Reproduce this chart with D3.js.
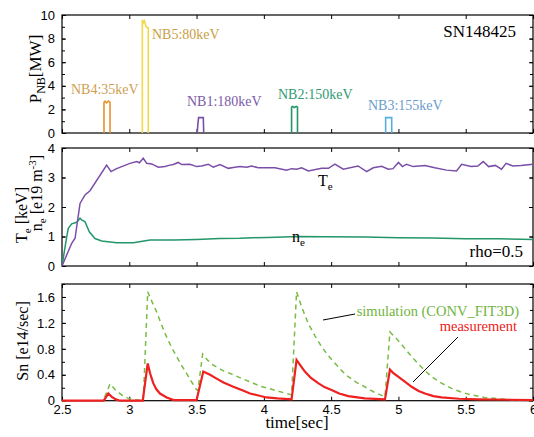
<!DOCTYPE html>
<html lang="en">
<head>
	<meta charset="UTF-8">
	<script type="text/javascript" src="https://d3js.org/d3.v7.min.js"></script>
	<title>SN148425 NB / Te ne / Sn</title>
	<style>
		body { margin: 0; background: #fff; }
		.tick text { font-family: "Liberation Sans", Arial, sans-serif; font-size: 13px; fill: #000; }
		.tick line { stroke: #000; }
		.serif { font-family: "Liberation Serif", "Times New Roman", serif; }
	</style>
</head>
<body>
<svg id="chart" width="534" height="437"></svg>

<script type="text/javascript">
	// ---- data ----
	// NB injected power [MW], outlines of each pulse
	var nb4Time = [2.812, 2.812, 2.82, 2.83, 2.845, 2.857, 2.857]
	var nb4Pow  = [0, 2.6, 2.7, 2.55, 2.7, 2.6, 0]
	var nb5Time = [3.097, 3.097, 3.103, 3.112, 3.125, 3.141, 3.141]
	var nb5Pow  = [0, 9.6, 9.3, 9.5, 9.0, 8.9, 0]
	var nb1Time = [3.505, 3.51, 3.515, 3.55, 3.553]
	var nb1Pow  = [0, 0.8, 1.3, 1.3, 0]
	var nb2Time = [4.206, 4.206, 4.215, 4.225, 4.24, 4.25, 4.25]
	var nb2Pow  = [0, 2.2, 2.25, 2.15, 2.25, 2.2, 0]
	var nb3Time = [4.905, 4.905, 4.95, 4.95]
	var nb3Pow  = [0, 1.3, 1.3, 0]
	var nbNames = ["NB4:35keV", "NB5:80keV", "NB1:180keV", "NB2:150keV", "NB3:155keV"]

	// Te [keV] at rho=0.5
	var teTime = [2.5,2.572,2.597,2.634,2.671,2.708,2.832,2.864,2.906,3.005,3.055,3.075,3.104,3.129,3.166,3.216,3.265,3.302,3.327,3.364,3.389,3.451,3.5,3.537,3.587,3.624,3.674,3.736,3.773,3.822,3.872,3.909,3.958,4.008,4.082,4.169,4.206,4.243,4.281,4.33,4.43,4.48,4.528,4.59,4.70,4.764,4.813,4.875,4.925,4.96,5.0,5.03,5.06,5.11,5.197,5.27,5.358,5.432,5.47,5.54,5.59,5.63,5.67,5.72,5.766,5.80,5.85,5.91,6.0]
	var teVal  = [0,0.77,0.94,2.12,2.41,2.55,3.42,3.2,3.3,3.48,3.54,3.5,3.65,3.48,3.46,3.35,3.37,3.42,3.44,3.51,3.44,3.45,3.37,3.39,3.45,3.35,3.44,3.31,3.34,3.37,3.35,3.39,3.33,3.33,3.33,3.25,3.30,3.28,3.33,3.22,3.31,3.31,3.45,3.28,3.39,3.2,3.33,3.38,3.28,3.3,3.51,3.37,3.45,3.37,3.41,3.33,3.25,3.22,3.45,3.37,3.39,3.54,3.37,3.41,3.28,3.48,3.39,3.41,3.45]
	// ne [e19 m-3]
	var neTime = [2.5,2.535,2.547,2.572,2.609,2.634,2.646,2.671,2.703,2.745,2.795,2.906,3.03,3.154,3.33,3.5,3.67,3.82,3.92,4.03,4.255,4.45,4.75,5.0,5.25,5.5,5.75,6.0]
	var neVal  = [0,0.99,1.28,1.43,1.48,1.62,1.56,1.5,1.16,0.93,0.85,0.79,0.79,0.88,0.88,0.9,0.93,0.94,0.96,0.97,1.0,0.99,0.98,0.96,0.95,0.92,0.92,0.9]

	// neutron rate Sn [e14/sec]
	var simTime = [2.5,2.807,2.857,2.9,2.95,2.99,3.02,3.104,3.137,3.17,3.203,3.24,3.278,3.315,3.352,3.39,3.426,3.46,3.5,3.51,3.545,3.58,3.624,3.7,3.773,3.85,3.921,3.98,4.033,4.1,4.206,4.243,4.28,4.33,4.38,4.43,4.48,4.53,4.58,4.627,4.69,4.75,4.82,4.90,4.937,4.998,5.05,5.098,5.17,5.246,5.32,5.395,5.47,5.54,5.64,5.74,5.87,6.0]
	var simVal  = [0,0,0.26,0.16,0.08,0.04,0.02,0,1.68,1.52,1.37,1.17,0.98,0.82,0.68,0.54,0.42,0.3,0.17,0.16,0.72,0.63,0.55,0.46,0.40,0.33,0.27,0.22,0.19,0.15,0.09,1.68,1.45,1.19,1.0,0.83,0.69,0.575,0.46,0.37,0.28,0.215,0.13,0.06,1.06,0.93,0.80,0.68,0.52,0.37,0.27,0.19,0.13,0.09,0.05,0.03,0.01,0]
	var measTime = [2.5,2.81,2.844,2.87,2.9,2.93,3.1,3.137,3.155,3.178,3.2,3.228,3.278,3.33,3.5,3.55,3.6,3.649,3.7,3.773,3.84,3.897,3.96,4.02,4.1,4.206,4.243,4.27,4.305,4.35,4.404,4.45,4.503,4.56,4.627,4.75,4.9,4.937,4.96,4.998,5.05,5.098,5.15,5.197,5.26,5.32,5.45,5.6,6.0]
	var measVal  = [0,0,0.11,0.06,0.02,0,0,0.575,0.42,0.27,0.18,0.11,0.05,0.01,0.01,0.45,0.4,0.34,0.28,0.215,0.16,0.11,0.08,0.05,0.035,0.02,0.63,0.55,0.45,0.35,0.27,0.21,0.165,0.11,0.07,0.035,0.02,0.48,0.43,0.37,0.29,0.215,0.15,0.11,0.07,0.05,0.03,0.02,0.01]

	var timeTicks = [2.5, 3, 3.5, 4, 4.5, 5, 5.5, 6]

	// ---- layout ----
	var svg = d3.select("#chart")
	var left = 62, right = 533

	var x = d3.scaleLinear().domain([2.5, 6]).range([left, right])
	var yNB = d3.scaleLinear().domain([0, 10]).range([133, 15])
	var yT = d3.scaleLinear().domain([0, 4]).range([266, 148])
	var ySn = d3.scaleLinear().domain([0, 1.8]).range([400.7, 284])

	var fmt = d3.format("~g")

	// draws the frame + inward ticks of one panel
	function panel(y, major, minor, showX) {
		var g = svg.append("g")
		var y0 = y.range()[0], y1 = y.range()[1]

		g.append("g").attr("transform", "translate(0," + y0 + ")")
			.call(d3.axisBottom(x).tickValues(timeTicks).tickSize(-4).tickPadding(4)
				.tickFormat(showX ? fmt : ""))
		g.append("g").attr("transform", "translate(0," + y1 + ")")
			.call(d3.axisTop(x).tickValues(timeTicks).tickSize(-4).tickFormat(""))
		g.append("g").attr("transform", "translate(" + left + ",0)")
			.call(d3.axisLeft(y).tickValues(minor).tickSize(-3).tickFormat(""))
		g.append("g").attr("transform", "translate(" + left + ",0)")
			.call(d3.axisLeft(y).tickValues(major).tickSize(-4).tickPadding(7).tickFormat(fmt))
		g.append("g").attr("transform", "translate(" + right + ",0)")
			.call(d3.axisRight(y).tickValues(minor).tickSize(-3).tickFormat(""))
		g.append("g").attr("transform", "translate(" + right + ",0)")
			.call(d3.axisRight(y).tickValues(major).tickSize(-4).tickFormat(""))
		g.selectAll(".domain").remove()

		g.append("rect")
			.attr("x", left).attr("y", y1)
			.attr("width", right - left).attr("height", y0 - y1)
			.style("fill", "none").attr("stroke", "#000").attr("stroke-width", 1.2)
		return g
	}

	panel(yNB, [0, 2, 4, 6, 8, 10], d3.range(0, 11, 1), false)
	panel(yT, [0, 1, 2, 3, 4], [0, 1, 2, 3, 4], false)
	panel(ySn, [0, 0.4, 0.8, 1.2, 1.6], d3.range(0, 1.81, 0.2), true)

	function lineOn(y) {
		return d3.line().x(function(d) { return x(d[0]); }).y(function(d) { return y(d[1]); })
	}

	// ---- NB power pulses ----
	var nbSeries = [
		{ t: nb4Time, p: nb4Pow, c: "#e8922e", tc: "#cf9f55", lx: 71, ly: 94 },
		{ t: nb5Time, p: nb5Pow, c: "#f0d84a", tc: "#c9a043", lx: 152, ly: 39 },
		{ t: nb1Time, p: nb1Pow, c: "#7a4ea8", tc: "#7d5aa8", lx: 187, ly: 106 },
		{ t: nb2Time, p: nb2Pow, c: "#23966a", tc: "#2f9a72", lx: 278, ly: 99 },
		{ t: nb3Time, p: nb3Pow, c: "#55aee0", tc: "#6a9ccc", lx: 368, ly: 110 }
	]
	nbSeries.forEach(function(s, i) {
		svg.append("path")
			.attr("d", lineOn(yNB)(d3.zip(s.t, s.p)))
			.style("fill", "none")
			.attr("stroke", s.c)
			.attr("stroke-width", 1.6)
		svg.append("text")
			.attr("class", "serif")
			.attr("x", s.lx).attr("y", s.ly)
			.style("font-size", "14px")
			.style("fill", s.tc)
			.text(nbNames[i])
	})

	svg.append("text").attr("class", "serif")
		.attr("x", 516).attr("y", 37).attr("text-anchor", "end")
		.style("font-size", "17px")
		.text("SN148425")

	// ---- Te / ne ----
	svg.append("path")
		.attr("d", lineOn(yT)(d3.zip(neTime, neVal)))
		.style("fill", "none").attr("stroke", "#23966a").attr("stroke-width", 1.5)
	svg.append("path")
		.attr("d", lineOn(yT)(d3.zip(teTime, teVal)))
		.style("fill", "none").attr("stroke", "#7a4ea8").attr("stroke-width", 1.5)

	var teLab = svg.append("text").attr("class", "serif")
		.attr("x", 318).attr("y", 186).style("font-size", "16px")
	teLab.append("tspan").text("T")
	teLab.append("tspan").attr("dy", 4).style("font-size", "11px").text("e")

	var neLab = svg.append("text").attr("class", "serif")
		.attr("x", 292).attr("y", 242).style("font-size", "16px")
	neLab.append("tspan").text("n")
	neLab.append("tspan").attr("dy", 4).style("font-size", "11px").text("e")

	svg.append("text").attr("class", "serif")
		.attr("x", 523).attr("y", 257).attr("text-anchor", "end")
		.style("font-size", "17px")
		.text("rho=0.5")

	// ---- neutron rate ----
	svg.append("path")
		.attr("d", lineOn(ySn)(d3.zip(simTime, simVal)))
		.style("fill", "none").attr("stroke", "#78bc45")
		.attr("stroke-width", 1.5).attr("stroke-dasharray", "5,4")
	svg.append("path")
		.attr("d", lineOn(ySn)(d3.zip(measTime, measVal)))
		.style("fill", "none").attr("stroke", "#ee2020").attr("stroke-width", 2.2)

	svg.append("line").attr("x1", 323).attr("y1", 320).attr("x2", 355).attr("y2", 314)
		.attr("stroke", "#000").attr("stroke-width", 1)
	svg.append("line").attr("x1", 413).attr("y1", 382).attr("x2", 458).attr("y2", 337)
		.attr("stroke", "#000").attr("stroke-width", 1)

	svg.append("text").attr("class", "serif")
		.attr("x", 519).attr("y", 316).attr("text-anchor", "end")
		.style("font-size", "14.5px").style("fill", "#6fb43e")
		.text("simulation (CONV_FIT3D)")
	svg.append("text").attr("class", "serif")
		.attr("x", 517).attr("y", 331).attr("text-anchor", "end")
		.style("font-size", "14.5px").style("fill", "#ee2020")
		.text("measurement")

	// ---- axis titles ----
	var pLab = svg.append("text").attr("class", "serif")
		.attr("transform", "translate(41,69) rotate(-90)")
		.attr("text-anchor", "middle").style("font-size", "17px")
	pLab.append("tspan").text("P")
	pLab.append("tspan").attr("dy", 4).style("font-size", "12px").text("NB")
	pLab.append("tspan").attr("dy", -4).text("[MW]")

	var tLab = svg.append("text").attr("class", "serif")
		.attr("transform", "translate(27,215) rotate(-90)")
		.attr("text-anchor", "middle").style("font-size", "16px")
	tLab.append("tspan").text("T")
	tLab.append("tspan").attr("dy", 4).style("font-size", "11px").text("e")
	tLab.append("tspan").attr("dy", -4).text(" [keV]")

	var nLab = svg.append("text").attr("class", "serif")
		.attr("transform", "translate(42,193) rotate(-90)")
		.attr("text-anchor", "middle").style("font-size", "16px")
	nLab.append("tspan").text("n")
	nLab.append("tspan").attr("dy", 4).style("font-size", "11px").text("e")
	nLab.append("tspan").attr("dy", -4).text(" [e19 m")
	nLab.append("tspan").attr("dy", -6).style("font-size", "11px").text("-3")
	nLab.append("tspan").attr("dy", 6).text("]")

	svg.append("text").attr("class", "serif")
		.attr("transform", "translate(28,341) rotate(-90)")
		.attr("text-anchor", "middle").style("font-size", "16px")
		.text("Sn [e14/sec]")

	svg.append("text").attr("class", "serif")
		.attr("x", 297).attr("y", 428).attr("text-anchor", "middle")
		.style("font-size", "17px")
		.text("time[sec]")
</script>

</body>
</html>
